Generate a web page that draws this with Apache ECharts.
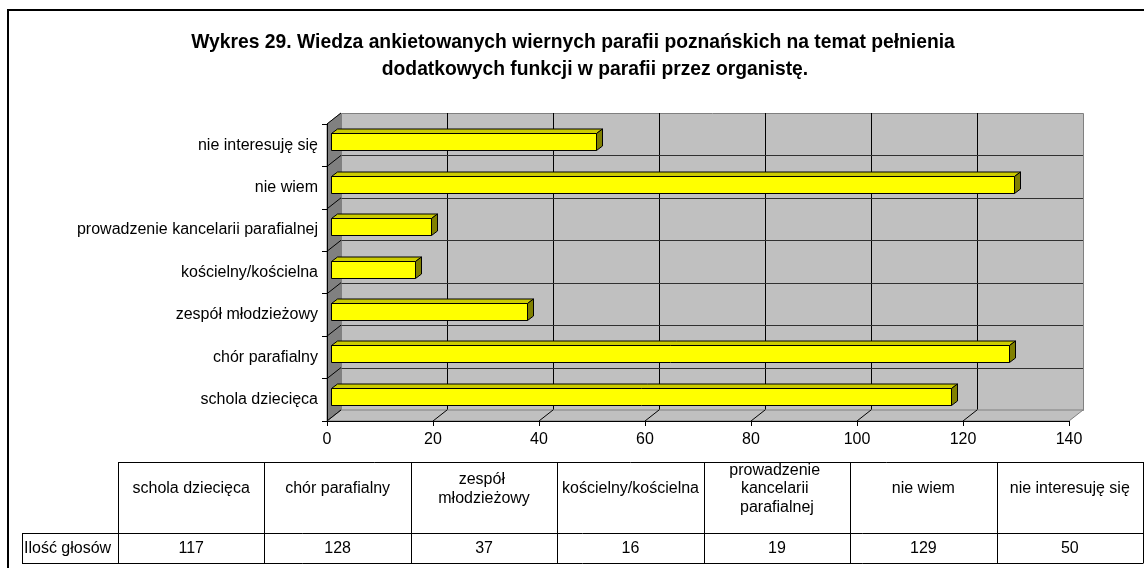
<!DOCTYPE html>
<html><head><meta charset="utf-8">
<script src="https://cdn.jsdelivr.net/npm/echarts@6/dist/echarts.min.js"></script>
<style>html,body{margin:0;padding:0;background:#fff}#c{width:1144px;height:568px}</style>
</head><body><div id="c"></div>
<script>
const titleLines = ['Wykres 29. Wiedza ankietowanych wiernych parafii poznańskich na temat pełnienia', 'dodatkowych funkcji w parafii przez organistę.'];
const categories = ['schola dziecięca', 'chór parafialny', 'zespół młodzieżowy', 'kościelny/kościelna', 'prowadzenie kancelarii parafialnej', 'nie wiem', 'nie interesuję się'];
const values = [117, 128, 37, 16, 19, 129, 50];
const seriesName = 'Ilość głosów';
const xTicks = [0, 20, 40, 60, 80, 100, 120, 140];

const FONT = 'Liberation Sans, Arial, sans-serif';
const DEPTH = [14, -11];
function cr(v) { return Math.round(v) + 0.5; }

function renderWalls(params, api) {
  const cs = params.coordSys;
  const x = cs.x, y = cs.y, w = cs.width, h = cs.height;
  const dx = DEPTH[0], dy = DEPTH[1];
  const n = categories.length;
  const ch = [];
  ch.push({ type: 'rect', shape: { x: cr(x + dx), y: cr(y + dy), width: Math.round(w), height: Math.round(h) },
    style: { fill: '#C0C0C0', stroke: '#808080', lineWidth: 1 } });
  xTicks.forEach(v => {
    if (v > xTicks[0] && v < xTicks[xTicks.length - 1]) {
      const px = cr(api.coord([v, 0])[0] + dx);
      ch.push({ type: 'line', shape: { x1: px, y1: y + dy, x2: px, y2: y + h + dy }, style: { stroke: '#000', lineWidth: 1 } });
    }
  });
  for (let k = 1; k < n; k++) {
    const yy = cr(y + dy + k * h / n);
    ch.push({ type: 'line', shape: { x1: x + dx, y1: yy, x2: x + dx + w, y2: yy }, style: { stroke: '#303030', lineWidth: 1 } });
  }
  ch.push({ type: 'polygon', shape: { points: [[x, y], [x + dx, y + dy], [x + dx, y + h + dy], [x, y + h]] },
    style: { fill: '#808080', stroke: '#808080', lineWidth: 1 } });
  for (let k = 0; k <= n; k++) {
    const yy = y + k * h / n;
    ch.push({ type: 'line', shape: { x1: x, y1: yy, x2: x + dx, y2: yy + dy }, style: { stroke: '#000', lineWidth: 1 } });
  }
  ch.push({ type: 'polygon', shape: { points: [[x, y + h], [x + w, y + h], [x + w + dx, y + h + dy], [x + dx, y + h + dy]] },
    style: { fill: '#C0C0C0', stroke: '#808080', lineWidth: 1 } });
  xTicks.forEach(v => {
    if (v < xTicks[xTicks.length - 1]) {
      const px = api.coord([v, 0])[0];
      ch.push({ type: 'line', shape: { x1: px, y1: y + h, x2: px + dx, y2: y + h + dy }, style: { stroke: '#000', lineWidth: 1 } });
    }
  });
  return { type: 'group', children: ch };
}

function renderBar(params, api) {
  const v = api.value(0), c = api.value(1);
  const p0 = api.coord([0, c]);
  const p1 = api.coord([v, c]);
  const band = api.size([0, 1])[1];
  const bh = Math.round(band * 0.41);
  const ox = 3.5, oy = -3.5, dx = 6, dy = -4.5;
  const x0 = Math.round(p0[0] + ox) + 0.5, x1 = Math.round(p1[0] + ox) + 0.5;
  const yt = Math.round(p0[1] + oy - bh / 2) + 0.5, yb = yt + bh;
  return { type: 'group', children: [
    { type: 'polygon', shape: { points: [[x0, yt], [x1, yt], [x1 + dx, yt + dy], [x0 + dx, yt + dy]] }, style: { fill: '#CCCC00', stroke: '#000', lineWidth: 1 } },
    { type: 'polygon', shape: { points: [[x1, yt], [x1 + dx, yt + dy], [x1 + dx, yb + dy], [x1, yb]] }, style: { fill: '#808000', stroke: '#000', lineWidth: 1 } },
    { type: 'rect', shape: { x: x0, y: yt, width: x1 - x0, height: bh }, style: { fill: '#FFFF00', stroke: '#000', lineWidth: 1 } }
  ] };
}

// table graphic
const T = { left: 118, right: 1143, top: 462, mid: 533, bottom: 563, labelLeft: 22 };
const colW = (T.right - T.left) / categories.length;
const tableEls = [];
function hl(x1, x2, yy) { tableEls.push({ type: 'line', shape: { x1: x1, y1: cr(yy), x2: x2, y2: cr(yy) }, style: { stroke: '#000', lineWidth: 1 } }); }
function vl(xx, y1, y2) { tableEls.push({ type: 'line', shape: { x1: cr(xx), y1: y1, x2: cr(xx), y2: y2 }, style: { stroke: '#000', lineWidth: 1 } }); }
hl(T.left, T.right, T.top);
hl(T.labelLeft, T.right, T.mid);
hl(T.labelLeft, T.right, T.bottom);
vl(T.labelLeft, T.mid, T.bottom + 0.5);
for (let k = 0; k <= categories.length; k++) vl(T.left + k * colW, T.top, T.bottom + 0.5);
categories.forEach((c, i) => {
  const cx = T.left + (i + 0.5) * colW;
  const st = { text: c, x: cx, y: 489, align: 'center', verticalAlign: 'middle', lineHeight: 18.5, font: '16px ' + FONT, fill: '#000' };
  if (c.indexOf(' ') >= 0) { st.width = 140; st.overflow = 'break'; }
  tableEls.push({ type: 'text', style: st });
  tableEls.push({ type: 'text', style: { text: String(values[i]), x: cx, y: (T.mid + T.bottom) / 2 + 1, align: 'center', verticalAlign: 'middle', font: '16px ' + FONT, fill: '#000' } });
});
tableEls.push({ type: 'text', style: { text: seriesName, x: T.labelLeft + 2, y: (T.mid + T.bottom) / 2 + 1, align: 'left', verticalAlign: 'middle', font: '16px ' + FONT, fill: '#000' } });
tableEls.push({ type: 'rect', shape: { x: 8, y: 10, width: 1200, height: 600 }, style: { fill: 'none', stroke: '#000', lineWidth: 2 } });

const titleStyle = { fontFamily: FONT, fontSize: 19.3, fontWeight: 'bold', color: '#000' };
const chart = echarts.init(document.getElementById('c'), null, { renderer: 'canvas' });
chart.setOption({
  animation: false,
  backgroundColor: '#fff',
  title: [
    { text: titleLines[0], left: 573, textAlign: 'center', top: 33, padding: 0, textStyle: titleStyle },
    { text: titleLines[1], left: 595, textAlign: 'center', top: 60, padding: 0, textStyle: titleStyle }
  ],
  grid: { left: 327, top: 124, width: 742, height: 297, outerBoundsMode: 'none', containLabel: false },
  xAxis: {
    type: 'value', min: 0, max: 140, interval: 20, z: 5,
    axisLine: { show: true, lineStyle: { color: '#000', width: 1 } },
    axisTick: { show: true, length: 5, lineStyle: { color: '#000' } },
    axisLabel: { fontFamily: FONT, fontSize: 16, color: '#000', margin: 11 },
    splitLine: { show: false }
  },
  yAxis: {
    type: 'category', data: categories, z: 5,
    axisLine: { show: true, lineStyle: { color: '#000', width: 1 } },
    axisTick: { show: true, length: 5, lineStyle: { color: '#000' } },
    axisLabel: { fontFamily: FONT, fontSize: 16, color: '#000', margin: 9 },
    splitLine: { show: false }
  },
  series: [
    { type: 'custom', name: 'walls', z: 1, silent: true, renderItem: renderWalls, data: [[0, 0]], encode: { x: 0, y: 1 } },
    { type: 'custom', name: seriesName, z: 3, renderItem: renderBar, data: values.map((v, i) => [v, i]), encode: { x: 0, y: 1 } }
  ],
  graphic: { elements: tableEls }
});
</script>
</body></html>
